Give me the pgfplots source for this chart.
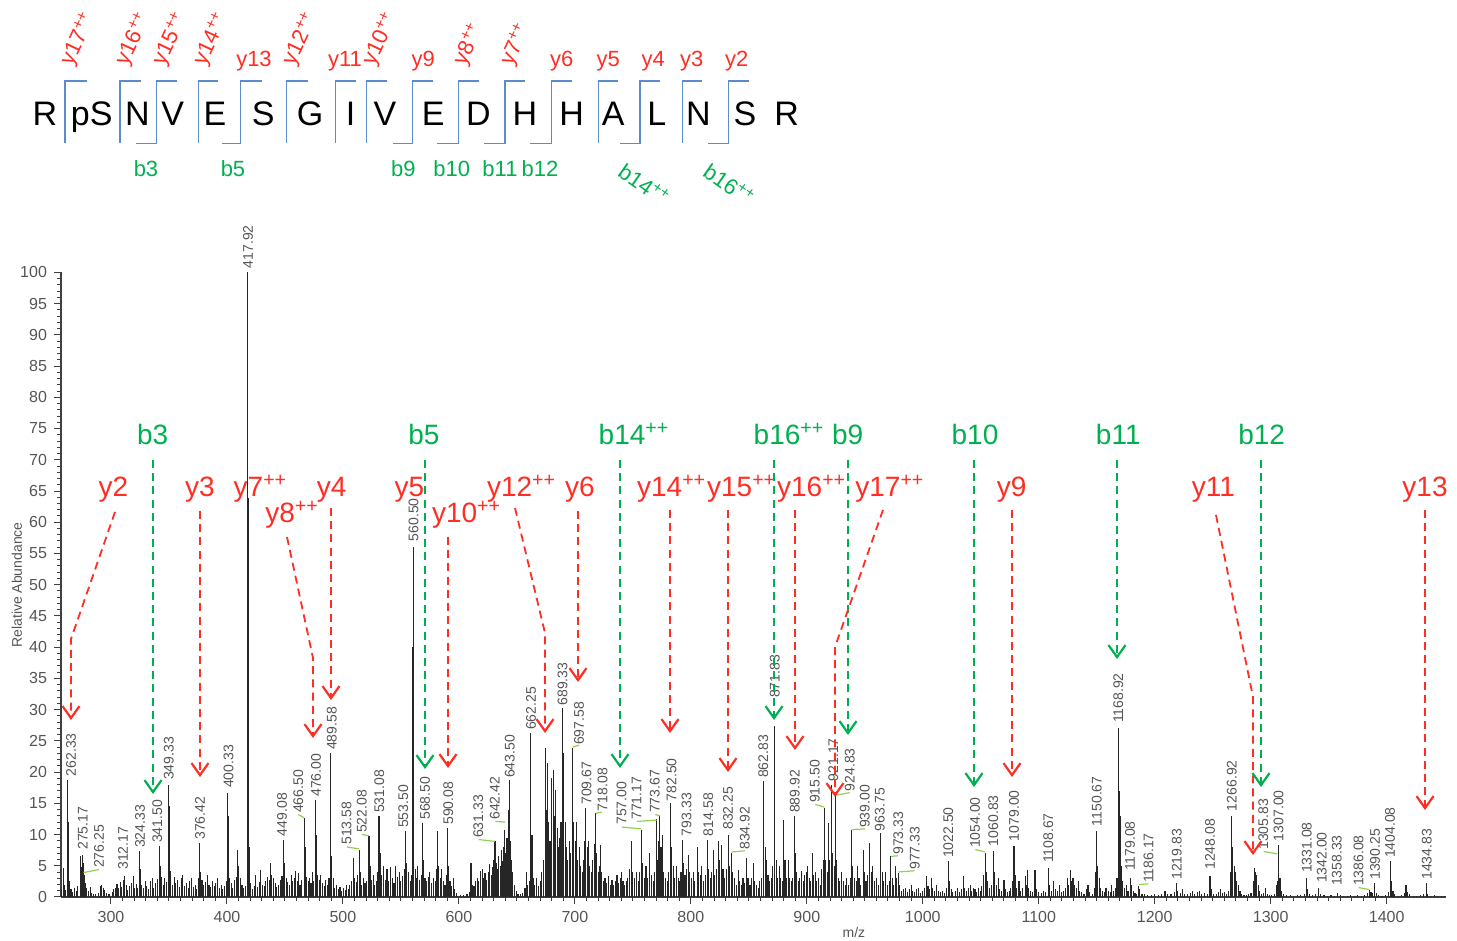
\documentclass[border=0pt]{standalone}
\usepackage{fontspec}
\setmainfont{Liberation Sans}
\usepackage{pgfplots}
\pgfplotsset{compat=1.18}
\usetikzlibrary{arrows.meta}
\definecolor{ared}{RGB}{255,45,35}
\definecolor{agreen}{RGB}{0,176,80}
\definecolor{ablue}{RGB}{91,139,205}
\definecolor{agrey}{RGB}{85,85,85}
\definecolor{lgreen}{RGB}{146,208,80}
\newcommand{\pl}[3]{\node[pklab] at (axis cs:#1,#2) {#3};}
\newcommand{\ld}[4]{\draw[lgreen, line width=0.6pt] (axis cs:#1,#2) -- (axis cs:#3,#4);}
\newcommand{\mkt}[2]{\draw[mk] (#2,81) -- (#1,81) -- (#1,143.3);}
\newcommand{\mkb}[3]{\draw[mk] (#2,81) -- (#1,81) -- (#1,143.3) -- (#3,143.3);}
\begin{document}
\begin{tikzpicture}[
  pklab/.style={rotate=90, anchor=west, inner sep=0pt, font=\fontsize{7}{7}\selectfont, text=agrey},
  mk/.style={draw=ablue, line width=0.75pt},
  seq/.style={anchor=base, inner sep=0pt, font=\fontsize{17}{17}\selectfont},
  sy/.style={inner sep=0pt, font=\fontsize{11}{11}\selectfont, text=ared},
  sb/.style={inner sep=0pt, font=\fontsize{11}{11}\selectfont, text=agreen},
  lr/.style={inner sep=0pt, font=\fontsize{14}{14}\selectfont, text=ared},
  lg/.style={inner sep=0pt, font=\fontsize{14}{14}\selectfont, text=agreen},
  rarr/.style={draw=ared, line width=0.9pt, dash pattern=on 4pt off 2.6pt, -{Straight Barb[length=6pt,width=8.5pt,line width=1.1pt]}},
  garr/.style={draw=agreen, line width=0.9pt, dash pattern=on 4pt off 2.6pt, -{Straight Barb[length=6pt,width=8.5pt,line width=1.1pt]}},
]
\begin{axis}[
  at={(0,0)}, anchor=south west,
  scale only axis, width=692.4pt, height=312.3pt,
  xmin=256.9, xmax=1451, ymin=0, ymax=100,
  axis lines*=left,
  axis line style={draw=black!75, line width=0.7pt},
  xtick={300,400,...,1400}, minor x tick num=9,
  ytick={0,5,...,100}, minor y tick num=4,
  tick align=outside,
  major tick length=3.5pt, minor tick length=2pt,
  tick style={draw=black!75, line width=0.5pt},
  ticklabel style={font=\fontsize{8}{8}\selectfont, text=agrey},
  /pgf/number format/assume math mode=true,
  /pgf/number format/1000 sep={},
  xlabel={m/z}, ylabel={Relative Abundance},
  xlabel style={at={(rel axis cs:0.5726,-0.0576)}, anchor=center, font=\fontsize{7}{7}\selectfont, text=agrey},
  ylabel style={at={(rel axis cs:-0.0318,0.4995)}, anchor=center, font=\fontsize{7}{7}\selectfont, text=agrey},
  clip=false,
]
\addplot[ycomb, draw=black!85, line width=0.55pt, mark=none] coordinates {
(257.5,1.2) (259,4.6) (260.2,2.0) (261,1.1) (262.33,18.7) (263.3,12.0) (264.2,2.5) (265.5,1.3) (267,0.8) (268.5,1.5) (270,0.9) (271.5,1.8) (273.5,6.5) (274.3,4.8) (275.17,6.8) (276.25,5.5) (277,3.5) (278,2.2) (279.2,1.4) (280.5,0.9) (282,1.6) (283.5,0.7) (285,0.5) (287,0.4) (289,0.6) (291,1.8) (292,2.0) (293.2,1.5) (294.5,1.1) (296,0.7) (297.5,0.5) (299,0.4)
(301,0.8) (302.5,1.2) (304,1.5) (305.2,2.1) (306.5,1.4) (308,2.4) (309.2,1.6) (310.5,2.8) (311.8,3.3) (313,2.0) (314.5,1.1) (316,1.8) (317.5,2.2) (319.3,3.3) (320.5,1.5) (322,2.1) (323.2,1.4) (324.4,7.3) (325.3,4.5) (326.5,2.0) (328,1.4) (329.5,2.5) (331,1.8) (332.5,1.2) (334,2.6) (335.5,3.0) (337,1.5) (338.5,2.2) (340,2.9) (341.6,8.1) (342.5,5.0) (343.5,3.2) (345,2.0) (346.5,3.0) (348,2.4) (349.4,17.9) (350.3,14.5) (351.5,4.2) (353,2.0) (354.5,3.2) (356,2.2) (357.5,2.8) (359,1.6) (360.5,3.1) (362,3.5) (363.5,1.8) (365,2.2) (366.5,1.4) (368,2.6) (369.5,3.0) (371,1.6) (372.5,2.0) (374,1.3) (375.4,3.0) (376.4,8.6) (377.4,4.0) (378.5,2.7) (380,1.9) (381.5,2.4) (383,3.5) (384.5,2.0) (386,1.6) (387.5,2.5) (389,1.8) (390.5,2.2) (392,3.0) (393.5,1.5) (395,1.9) (396.5,1.2) (398,1.7) (399.3,2.5)
(400.33,16.6) (401.2,13.0) (402.3,3.0) (403.8,2.2) (405,1.5) (406.5,2.7) (408,3.2) (409.2,7.5) (410.3,5.0) (411.5,3.0) (413,2.0) (414.5,1.4) (416,1.8) (417.5,13.0) (417.92,100) (418.4,63.8) (419.2,8) (420.5,2.2) (422,1.2) (423.5,1.8) (425,3.5) (426.5,1.6) (428,2.4) (429.3,4.3) (430.5,2.0) (432,1.7) (433.5,2.5) (435,3.2) (436.5,2.8) (437.5,5.5) (438.7,3.6) (440,3.0) (441.5,2.2) (443,1.6) (444.5,2.0) (446,2.8) (447.5,3.4) (449.08,9.1) (450,5.5) (451.2,3.0) (452.5,2.4) (454,2.0) (455.3,3.5) (456.5,2.6) (458,3.0) (459.2,4.2) (460.5,2.5) (461.8,3.8) (463,2.0) (464.5,2.8) (466.5,12.6) (467.3,8.0) (468.5,3.2) (470,2.5) (471.3,3.0) (472.5,2.2) (473.5,4.0) (474.8,2.6) (476.0,15.5) (476.9,10.0) (478,3.5) (479.5,2.8) (481,3.5) (482.5,2.2) (484,1.8) (485.3,2.8) (486.5,2.0) (488,3.0) (489.58,23.0) (490.5,6.5) (491.5,3.0) (493,1.4) (494.5,2.0) (496,1.2) (497.5,1.6) (499,1.0)
(500.5,1.5) (502,1.1) (503.2,2.0) (504.5,1.3) (506,2.0) (507.5,2.5) (509,6.2) (510,3.0) (511.5,2.4) (512.5,3.5) (514.1,7.6) (515,4.0) (516.3,2.0) (517.5,3.0) (519,2.2) (520.5,2.5) (522.5,9.7) (523.4,5.0) (524.8,2.8) (526,3.5) (527.5,2.0) (529,2.6) (530.2,4.0) (531.1,12.9) (532.1,7.0) (533.5,3.5) (535,5.0) (536.5,2.8) (538,4.5) (539.5,2.5) (541,4.8) (542.5,3.0) (544,2.2) (545.5,5.0) (547,3.2) (548.5,4.0) (550,2.5) (551.5,3.3) (553,4.5) (554.1,10.5) (555.2,5.5) (556.5,4.0) (558,2.5) (559.3,3.5) (560.2,40) (560.7,56.0) (561.2,17.0) (562.3,4.5) (563.5,3.0) (564.5,5.0) (566,2.8) (567.5,3.5) (568.5,11.8) (569.5,6.0) (570.8,3.0) (572,2.5) (573.5,3.2) (575,4.0) (576.5,2.2) (578,3.0) (579.5,2.5) (580.8,4.5) (581.7,10.5) (582.8,5.0) (584,3.0) (585.3,4.5) (586.5,2.5) (588,2.0) (589.2,3.5) (590.1,11.0) (591.1,5.0) (592.3,2.5) (593.5,1.8) (595,3.0) (596.5,1.2) (598,0.6)
(601,0.3) (604,0.3) (607,0.4) (609,0.8) (610.4,5.4) (611.5,2.0) (613,1.8) (614.5,2.5) (616,3.0) (617.2,2.5) (618.5,4.2) (620,4.5) (621.3,3.0) (622.5,3.8) (624,2.8) (625.3,4.0) (626.5,5.3) (627.8,3.5) (629,4.8) (630,6.0) (631.1,8.9) (632.2,5.5) (633.3,4.5) (634.5,6.5) (635.5,5.0) (636.6,7.5) (637.7,5.8) (638.8,8.0) (639.6,10.7) (640.5,7.0) (641.5,9.5) (642.4,13.9) (643.3,18.7) (644.2,9.0) (645.3,6.0) (646.5,4.0) (648,2.0) (649.5,1.0) (651,0.5) (653,0.4) (655,0.6) (657,1.5) (658.3,4.0) (659.5,2.0) (661,2.5) (662.1,26.2) (663,10.0) (664.2,3.0) (665.5,2.0) (667,3.0) (668.5,1.8) (670,2.5) (671.5,4.0) (673,6.0) (674.5,23.8) (675.5,14.0) (676.4,21.4) (677.5,12.0) (678.6,9.0) (679.9,19.0) (681.3,20.3) (682.4,13.0) (683.6,17.1) (684.7,11.0) (686,8.0) (687,9.5) (688,12.0) (689.1,30.2) (690.5,23.0) (691.6,12.0) (692.8,8.0) (694,6.0) (695.2,9.0) (696.5,7.0) (698.0,23.8) (699.1,12.0)
(700.2,9.0) (701.3,12.0) (702.5,6.0) (703.8,8.0) (705,5.0) (706.2,4.0) (707.5,6.0) (708.5,9.0) (709.5,14.2) (710.6,8.0) (711.8,9.0) (713,5.0) (714.3,4.0) (715.5,6.0) (716.7,8.5) (717.8,13.4) (718.9,7.0) (720,4.0) (721,5.0) (722.1,8.3) (723.2,4.0) (724.5,2.5) (726,3.0) (727.5,2.2) (729,3.3) (730.5,2.0) (732,2.8) (733.5,2.0) (735,2.5) (736.3,3.5) (737.5,2.2) (739,3.0) (740.3,4.0) (741.5,2.5) (743,2.0) (744.3,2.5) (745.5,3.0) (747,4.5) (748.9,8.9) (750,4.0) (751.5,3.0) (753,4.0) (754.5,2.5) (756,4.0) (757.5,10.7) (758.5,5.5) (760,3.0) (761.3,5.0) (762.5,3.0) (764.7,7.0) (766,3.5) (767.5,2.5) (769,4.0) (770.4,12.5) (771.5,6.0) (772.4,9.0) (773.3,13.1) (774.3,8.0) (775.3,10.0) (776.5,4.0) (778,3.0) (779.5,2.5) (781,4.0) (782.5,15.0) (783.5,8.0) (784.7,5.0) (786,3.0) (787.5,5.0) (789,3.0) (790.5,2.5) (791.5,4.0) (792.6,9.1) (793.6,5.5) (795,3.5) (796.3,4.5) (797.7,6.7) (799,4.0)
(800.5,3.0) (802,4.0) (803.5,2.5) (805.5,8.0) (806.8,4.0) (808,3.5) (809.5,5.0) (811,2.5) (812.5,3.5) (814.4,9.1) (815.5,4.5) (817,3.0) (818.2,4.0) (819.3,7.5) (820.5,3.5) (822,4.5) (823.6,8.9) (824.8,6.0) (826.5,8.3) (827.7,4.5) (829,3.0) (830.5,4.5) (832.2,9.9) (833.2,5.0) (835.1,7.0) (836.3,4.0) (837.5,3.0) (839,2.0) (840.8,4.3) (842,2.5) (843.5,2.0) (845,3.0) (846.5,2.2) (848,6.2) (849.3,3.0) (851,2.0) (852.5,3.0) (853.8,5.4) (855,2.5) (856.5,2.0) (858,1.5) (859.5,2.5) (861,3.0) (863.0,18.5) (864,8.0) (865.2,6.0) (866.5,3.5) (868,2.5) (869.5,3.0) (870.8,5.0) (871.8,27.3) (872.5,14.0) (873.5,6.0) (875,3.0) (876.3,5.0) (877.5,3.0) (879,2.5) (880.2,12.3) (881.2,6.0) (882.5,3.0) (884,6.0) (885.3,3.0) (886.5,2.5) (888,3.0) (889.1,12.9) (890.1,7.0) (891.3,4.0) (892.5,2.5) (894,3.0) (895.4,4.1) (896.8,2.5) (898,3.5) (899.5,4.0)
(900.5,5.0) (902,3.0) (903.5,2.5) (904.7,7.0) (906,3.5) (907.5,4.0) (908.7,2.5) (910,3.0) (911.5,2.0) (913,4.5) (914.2,6.0) (915.2,14.2) (916.3,6.0) (917.5,4.0) (918.7,11.8) (919.7,6.0) (921.3,17.9) (922.3,7.0) (923.5,5.0) (924.8,16.1) (925.8,6.0) (927,3.0) (928.5,2.5) (930,4.0) (931.5,2.5) (933,2.0) (934.5,3.0) (936,2.0) (937.5,3.0) (938.6,10.7) (939.7,5.0) (941,3.0) (942.5,2.5) (943.5,5.0) (945,3.0) (946.5,2.0) (948.6,7.5) (949.8,4.0) (951,2.5) (952.5,3.5) (954.4,8.6) (955.5,4.0) (957,5.0) (958.5,2.5) (960,3.0) (961.5,2.0) (963.9,10.2) (965,4.0) (966.5,2.5) (968,4.0) (969.5,2.0) (971,2.5) (972.5,6.5) (973.6,3.0) (975,2.0) (976.2,5.0) (977.5,3.0) (978.8,3.8) (980,2.0) (981.5,1.0) (983,1.2) (985,1.5) (987,0.8) (988.5,1.2) (990,2.0) (991.5,1.0) (993,0.8) (994.5,1.2) (996,1.5) (998,0.7)
(1000,1.0) (1001.5,1.5) (1003.3,3.3) (1004.5,1.8) (1006,1.2) (1007.3,3.0) (1008.5,1.5) (1010,1.0) (1012,2.0) (1013.5,1.0) (1015,0.8) (1017,1.0) (1019,0.6) (1020.5,1.5) (1022,5.7) (1023,2.5) (1024.5,1.2) (1026,0.8) (1028,1.0) (1030,1.5) (1032,0.8) (1033.5,1.2) (1035,3.3) (1036.3,1.5) (1038,1.0) (1039.5,1.5) (1040.8,2.0) (1042,1.0) (1043.5,1.5) (1045,1.2) (1046.5,0.8) (1048,1.5) (1049.5,1.0) (1051,1.8) (1052.5,3.5) (1053.7,7.0) (1054.8,4.0) (1056,2.5) (1057.5,1.5) (1059,2.0) (1060.9,7.3) (1062,4.0) (1063.3,2.0) (1065,3.0) (1066.5,1.2) (1068,1.0) (1070,2.7) (1071.5,1.2) (1073,0.8) (1074.5,1.0) (1076,1.5) (1077.5,2.5) (1078.7,8.1) (1079.7,3.5) (1081,1.5) (1083,2.5) (1084.5,1.0) (1086,1.5) (1088.2,3.3) (1089.2,2.0) (1090.2,4.3) (1091.5,1.5) (1093,1.0) (1094.5,0.8) (1096.8,4.3) (1098,1.2)
(1100,0.8) (1102,0.6) (1104,1.0) (1106,0.8) (1108.3,4.6) (1109.5,2.0) (1111,1.0) (1113,2.5) (1114.5,1.2) (1116,1.0) (1118,2.0) (1119.5,0.8) (1121,1.0) (1123,1.5) (1125,3.0) (1126,2.0) (1127,4.3) (1128.2,2.5) (1129.5,3.0) (1131,2.0) (1132.5,1.5) (1134,2.5) (1135.5,1.0) (1137,0.8) (1139,0.5) (1141,1.2) (1142.5,2.0) (1144,0.8) (1146,0.5) (1148,1.5) (1149.2,4.0) (1150,10.5) (1151,5.0) (1152.2,3.0) (1153.5,1.5) (1155,1.0) (1156.5,0.8) (1158,1.5) (1160,1.0) (1161.5,0.8) (1163,2.0) (1164.5,1.0) (1166,1.5) (1167.5,3.0) (1168.7,27.0) (1169.5,17.0) (1170.3,13.0) (1171.3,5.0) (1172.5,2.5) (1174,1.5) (1175.5,2.0) (1177,1.0) (1178.8,3.0) (1180,2.0) (1181.5,1.0) (1183,0.6) (1184.5,0.5) (1186,1.7) (1187.2,1.2) (1189,0.5) (1191,0.4) (1194,0.3) (1197,0.3)
(1200,0.5) (1203,0.3) (1206,0.4) (1208.9,0.9) (1211,0.4) (1214,0.5) (1217,0.8) (1219,2.2) (1220,1.0) (1222,0.6) (1224,1.3) (1226,0.5) (1228.5,0.4) (1231,0.6) (1232.5,1.0) (1234.5,0.5) (1236.5,0.8) (1238.5,0.9) (1240.5,0.5) (1243,0.6) (1245.5,0.5) (1247.7,3.3) (1249,1.2) (1251,0.5) (1253,0.4) (1255,0.8) (1256.5,1.2) (1258.5,0.6) (1260,0.8) (1262,0.5) (1263.5,1.0) (1265.3,4.0) (1266.4,12.9) (1267.4,8.0) (1268.5,5.0) (1269.5,4.0) (1270.5,2.5) (1272,2.0) (1273.5,1.0) (1275,0.5) (1277,0.3) (1279,0.3) (1281,0.4) (1283,0.6) (1284.8,2.5) (1285.7,4.6) (1286.8,4.0) (1288,3.5) (1289.2,2.0) (1290.5,1.0) (1292,0.5) (1294,0.6) (1295.2,1.4) (1297,0.5) (1299,0.3)
(1301,0.3) (1303,0.5) (1304.8,2.0) (1305.83,2.5) (1307.0,8.3) (1308,3.0) (1309.3,1.0) (1311,0.4) (1314,0.3) (1317,0.3) (1320,0.2) (1323,0.3) (1326,0.3) (1329,0.5) (1330.5,3.0) (1331.8,1.2) (1333.5,0.5) (1336,0.3) (1339,0.4) (1341.2,1.4) (1343,0.5) (1346,0.3) (1349,0.2) (1352,0.3) (1355,0.2) (1357.5,0.6) (1360,0.3) (1363,0.2) (1366,0.2) (1369,0.3) (1372,0.2) (1375,0.3) (1378,0.2) (1381,0.3) (1383.5,0.6) (1385.1,1.1) (1386.5,0.8) (1388,0.6) (1389.4,2.2) (1391,0.6) (1393,0.3) (1396,0.2) (1399,0.3)
(1401.5,0.8) (1403,5.7) (1404.2,2.5) (1405.5,1.0) (1407,0.4) (1410,0.2) (1413,0.3) (1415.5,0.6) (1416.7,1.9) (1418,0.8) (1420,0.4) (1423,0.2) (1426,0.2) (1429,0.3) (1432,0.4) (1434,2.3) (1435.5,0.5) (1438,0.2) (1441,0.3) (1444,0.2) (1447,0.2) (1450,0.1)
};
% peak labels
\pl{265.5}{19.3}{262.33}
\pl{275.8}{7.5}{275.17}
\pl{289.7}{4.6}{276.25} \ld{276.3}{3.9}{289.7}{4.4}
\pl{310.5}{4.3}{312.17}
\pl{325.0}{7.8}{324.33}
\pl{340.0}{8.6}{341.50}
\pl{349.8}{18.7}{349.33}
\pl{376.8}{9.1}{376.42}
\pl{401.3}{17.4}{400.33}
\pl{418.2}{100.6}{417.92}
\pl{447.5}{9.7}{449.08}
\pl{461.5}{13.4}{466.50} \ld{461.5}{13.2}{466.5}{12.7}
\pl{476.8}{16.0}{476.00}
\pl{490.5}{23.5}{489.58}
\pl{503.2}{8.3}{513.58} \ld{503.5}{8.0}{514.0}{7.7}
\pl{516.2}{10.2}{522.08} \ld{516.5}{10.0}{522.3}{9.8}
\pl{531.4}{13.4}{531.08}
\pl{552.1}{11.0}{553.50}
\pl{560.9}{56.9}{560.50}
\pl{570.8}{12.3}{568.50}
\pl{590.9}{11.5}{590.08}
\pl{616.8}{9.4}{631.33} \ld{617.0}{9.2}{631.0}{8.9}
\pl{631.0}{12.3}{642.42} \ld{631.5}{12.1}{640.0}{12.0}
\pl{644.0}{19.0}{643.50}
\pl{662.2}{26.7}{662.25}
\pl{689.4}{30.6}{689.33}
\pl{703.7}{24.3}{697.58} \ld{698.0}{24.0}{703.5}{24.3}
\pl{710.0}{14.7}{709.67}
\pl{723.9}{13.7}{718.08} \ld{718.0}{13.4}{723.5}{13.6}
\pl{740.2}{11.5}{757.00} \ld{740.5}{11.2}{757.5}{10.9}
\pl{753.2}{12.3}{771.17} \ld{753.5}{12.1}{770.4}{12.3}
\pl{769.0}{13.4}{773.67} \ld{769.3}{13.2}{773.3}{13.0}
\pl{783.4}{15.3}{782.50}
\pl{796.3}{9.7}{793.33}
\pl{815.0}{9.7}{814.58}
\pl{832.2}{10.7}{832.25}
\pl{846.6}{7.5}{834.92} \ld{835.1}{7.2}{846.5}{7.4}
\pl{862.4}{19.0}{862.83}
\pl{872.5}{31.8}{871.83}
\pl{889.7}{13.4}{889.92}
\pl{907.0}{15.0}{915.50} \ld{907.3}{14.8}{915.2}{14.4}
\pl{922.8}{18.5}{921.17}
\pl{937.1}{16.9}{924.83} \ld{925.0}{16.3}{937.0}{16.7}
\pl{950.1}{11.0}{939.00} \ld{938.6}{10.8}{950.0}{10.9}
\pl{963.0}{10.5}{963.75}
\pl{978.8}{6.7}{973.33} \ld{972.6}{6.5}{978.5}{6.6}
\pl{993.2}{4.3}{977.33} \ld{979.0}{4.0}{993.0}{4.2}
\pl{1022.0}{6.2}{1022.50}
\pl{1045.1}{7.8}{1054.00} \ld{1045.3}{7.6}{1053.7}{7.2}
\pl{1060.9}{8.1}{1060.83}
\pl{1078.7}{8.9}{1079.00}
\pl{1108.3}{5.4}{1108.67}
\pl{1150.0}{11.3}{1150.67}
\pl{1168.7}{27.8}{1168.92}
\pl{1178.8}{4.1}{1179.08}
\pl{1194.6}{2.2}{1186.17} \ld{1186.5}{2.0}{1194.5}{2.1}
\pl{1219.0}{2.7}{1219.83}
\pl{1247.7}{4.3}{1248.08}
\pl{1266.4}{13.7}{1266.92}
\pl{1293.7}{7.5}{1305.83} \ld{1294.0}{7.3}{1305.5}{6.9}
\pl{1306.7}{8.9}{1307.00}
\pl{1331.1}{3.8}{1331.08}
\pl{1344.0}{2.2}{1342.00}
\pl{1357.0}{1.7}{1358.33}
\pl{1375.7}{1.7}{1386.08} \ld{1376.0}{1.5}{1385.0}{1.2}
\pl{1390.0}{2.7}{1390.25}
\pl{1403.0}{6.2}{1404.08}
\pl{1434.6}{2.7}{1434.83}
\end{axis}
\begin{scope}[shift={(-30.5pt,448.5pt)}, x=0.5pt, y=-0.5pt]
% peptide sequence
\foreach \x/\l in {45/R, 91.7/pS, 137.3/N, 172.7/V, 215/E, 263.3/S, 310/G, 350.7/I, 385/V, 433.3/E, 478.3/D, 525/H, 571.7/H, 613.3/A, 656.7/L, 698.3/N, 745/S, 786.7/R}
  \node[seq] at (\x,126) {\l};
\mkt{65}{86.7}
\mkt{120}{141}
\mkb{156.7}{177.3}{136}
\mkt{198.3}{218.3}
\mkb{240.7}{262.3}{222.3}
\mkt{286.7}{308.3}
\mkt{335.7}{356}
\mkt{366.7}{387.3}
\mkb{412.7}{433.3}{392.7}
\mkb{458.3}{479}{437.3}
\mkb{505}{525}{484}
\mkb{551.7}{571.7}{530}
\mkt{598.3}{618.3}
\mkb{640}{660}{620}
\mkt{682.7}{701.7}
\mkb{728.3}{749.3}{708.3}
\foreach \x/\l in {254/y13, 345/y11, 423.3/y9, 561.7/y6, 608.3/y5, 653.3/y4, 691.7/y3, 736.7/y2}
  \node[sy, anchor=base] at (\x,66.7) {\l};
\foreach \x/\l in {67/17, 122/16, 159/15, 200/14, 289/12, 369/10, 460/8, 507/7}
  \node[sy, anchor=west, rotate=65] at (\x,64) {y\l\textsuperscript{++}};
\foreach \x/\l in {146/b3, 233/b5, 403.3/b9, 451.7/b10, 500/b11, 540/b12}
  \node[sb, anchor=base] at (\x,176.7) {\l};
\node[sb, anchor=west, rotate=-35] at (621,168) {b14\textsuperscript{++}};
\node[sb, anchor=west, rotate=-35] at (706,168) {b16\textsuperscript{++}};
% ion annotation labels
\foreach \x/\l in {152.7/b3, 424/b5, 847.7/b9, 975/b10, 1118.3/b11, 1261.7/b12}
  \node[lg, anchor=base] at (\x,445) {\l};
\node[lg, anchor=base west] at (598.3,445) {b14\textsuperscript{++}};
\node[lg, anchor=base west] at (753.3,445) {b16\textsuperscript{++}};
\foreach \x/\l in {113.3/y2, 200/y3, 331.7/y4, 409.3/y5, 580/y6, 1011.7/y9, 1213.3/y11, 1425/y13}
  \node[lr, anchor=base] at (\x,497) {\l};
\foreach \x/\l in {233.3/7, 486.7/12, 636.7/14, 706.7/15, 776.7/16, 855/17}
  \node[lr, anchor=base west] at (\x,497) {y\l\textsuperscript{++}};
\foreach \x/\l in {265/8, 431.7/10}
  \node[lr, anchor=base west] at (\x,523) {y\l\textsuperscript{++}};
% green arrows
\foreach \x/\y in {153/794, 425/769, 620/768, 774/720, 848/735, 974/787, 1117/659, 1261/787}
  \draw[garr] (\x,460) -- (\x,\y);
% red arrows
\draw[rarr] (115,512) -- (71,639) -- (71,720);
\draw[rarr] (200,511) -- (200,777);
\draw[rarr] (287,537) -- (313,658) -- (313,738);
\draw[rarr] (331,508) -- (331,700);
\draw[rarr] (448,537) -- (448,768);
\draw[rarr] (515,508) -- (545,633) -- (545,733);
\draw[rarr] (578,511) -- (578,682);
\draw[rarr] (670,510) -- (670,733);
\draw[rarr] (728,510) -- (728,772);
\draw[rarr] (795,510) -- (795,750);
\draw[rarr] (883,510) -- (835,647) -- (835,797);
\draw[rarr] (1012,510) -- (1012,777);
\draw[rarr] (1216,515) -- (1253,697) -- (1253,855);
\draw[rarr] (1425,510) -- (1425,810);
\end{scope}
\pgfresetboundingbox
\path[shift={(-30.5pt,448.5pt)}, x=0.5pt, y=-0.5pt] (0,0) rectangle (1457,941);
\end{tikzpicture}
\end{document}
